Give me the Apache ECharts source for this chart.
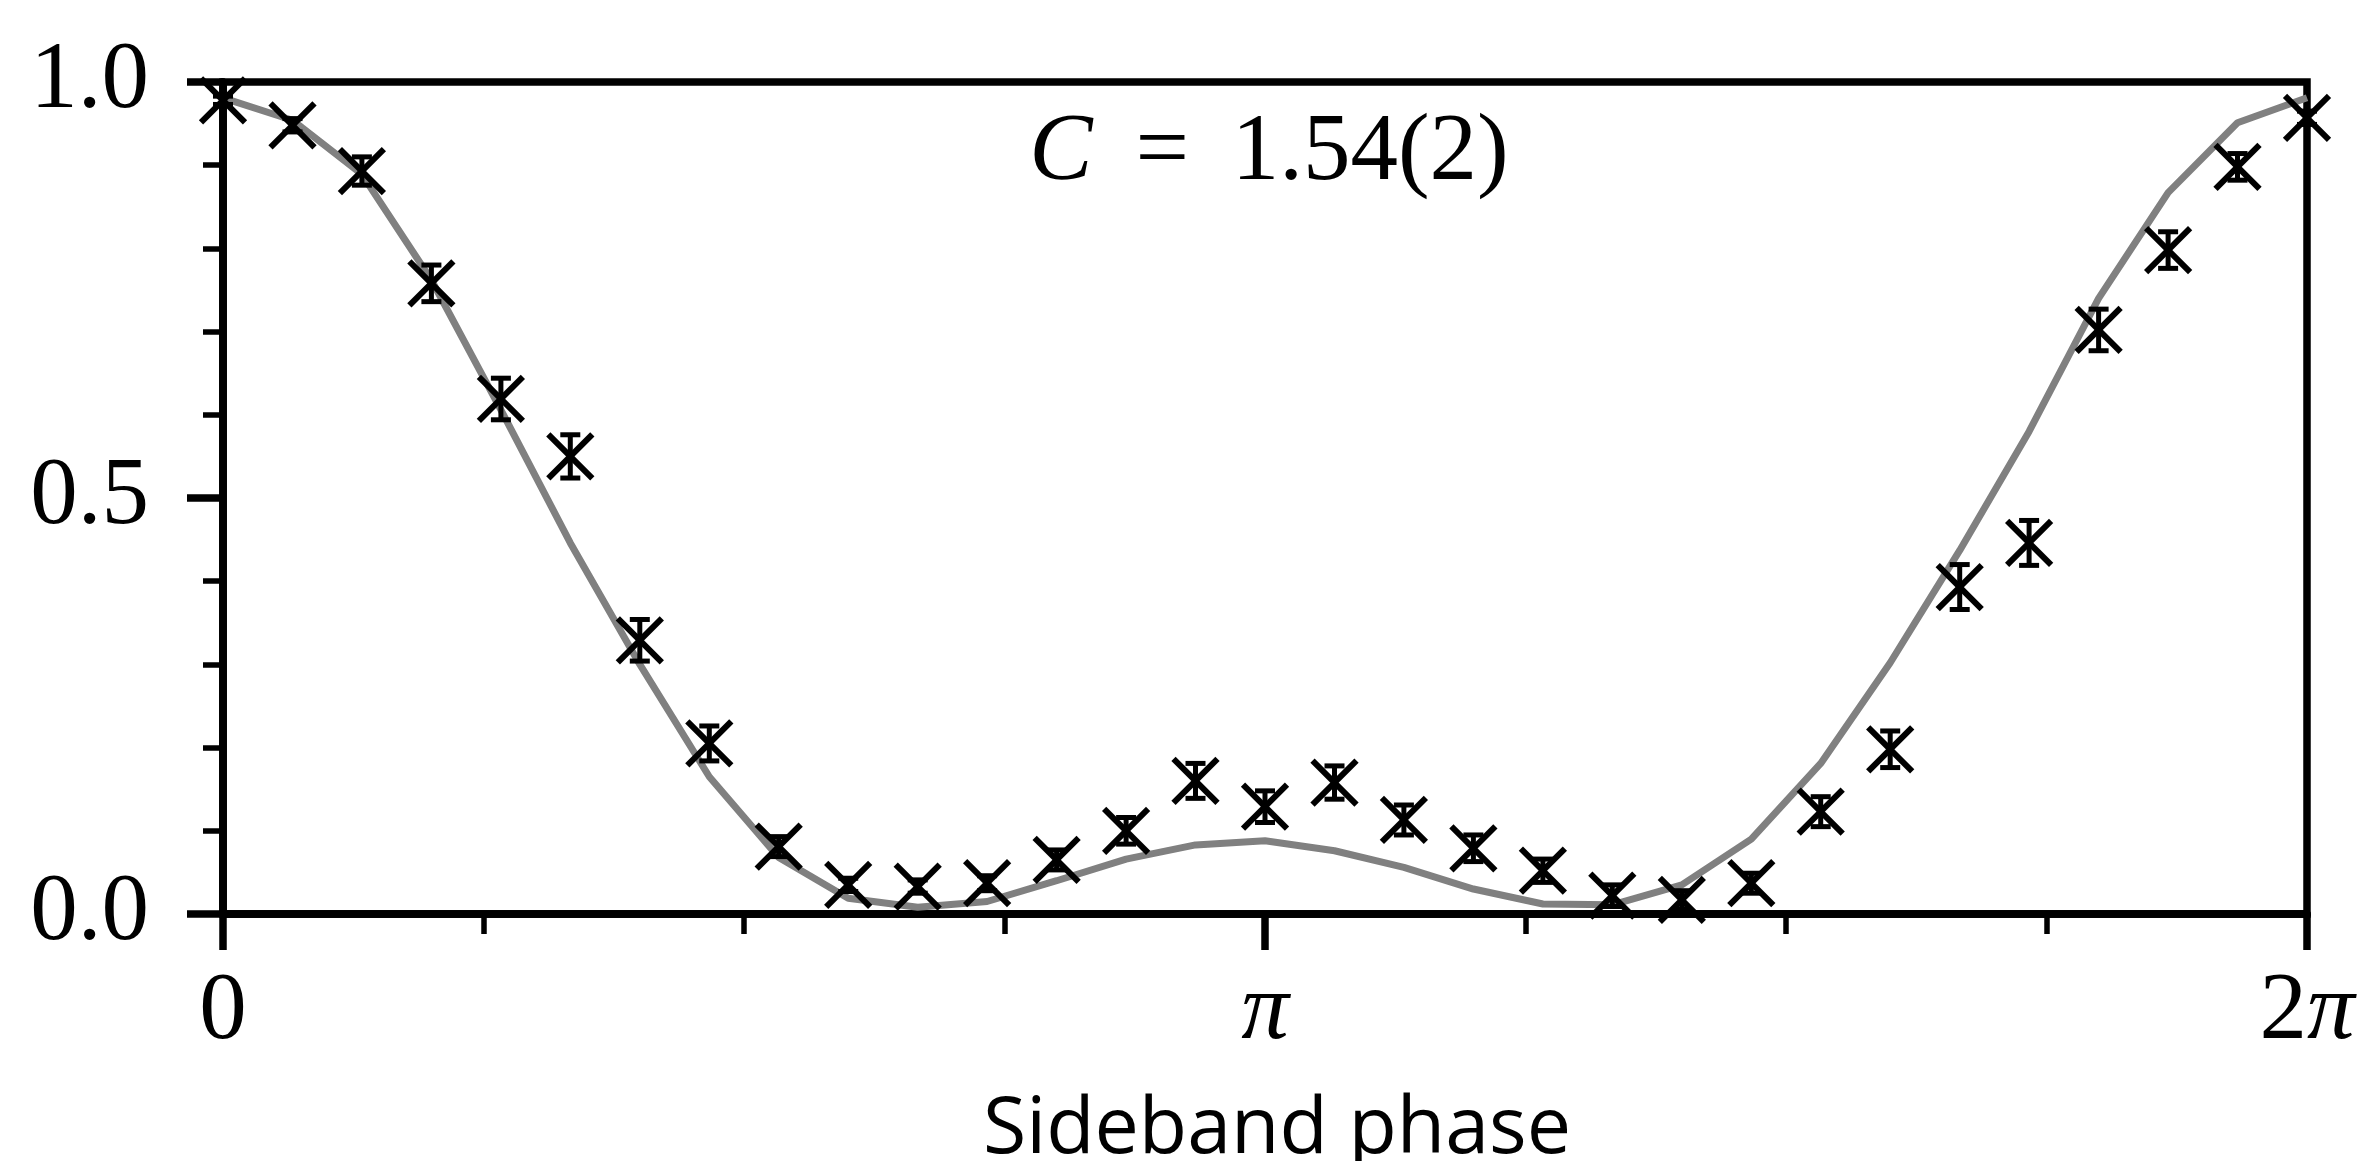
<!DOCTYPE html>
<html>
<head>
<meta charset="utf-8">
<script src="https://cdn.jsdelivr.net/npm/echarts@6/dist/echarts.min.js"></script>
<style>
html,body{margin:0;padding:0;background:#fff;}
#c{width:2371px;height:1161px;}
</style>
</head>
<body>
<div id="c"></div>
<script>
// Sideband phase in units of pi (31 points from 0 to 2)
const phase = [0, 0.0667, 0.1333, 0.2, 0.2667, 0.3333, 0.4, 0.4667, 0.5333, 0.6, 0.6667, 0.7333, 0.8, 0.8667, 0.9333, 1, 1.0667, 1.1333, 1.2, 1.2667, 1.3333, 1.4, 1.4667, 1.5333, 1.6, 1.6667, 1.7333, 1.8, 1.8667, 1.9333, 2];
// Measured values
const measured = [0.978, 0.948, 0.893, 0.758, 0.619, 0.550, 0.329, 0.205, 0.081, 0.035, 0.033, 0.037, 0.065, 0.100, 0.160, 0.129, 0.158, 0.113, 0.079, 0.052, 0.022, 0.017, 0.037, 0.123, 0.198, 0.393, 0.446, 0.702, 0.798, 0.898, 0.957];
// Error bar half-heights
const errors = [0.005, 0.008, 0.017, 0.022, 0.025, 0.026, 0.025, 0.021, 0.012, 0.008, 0.008, 0.009, 0.012, 0.016, 0.021, 0.019, 0.020, 0.018, 0.016, 0.014, 0.013, 0.011, 0.012, 0.018, 0.022, 0.027, 0.027, 0.025, 0.022, 0.016, 0.008];
// Theory curve
const theory = [0.981, 0.954, 0.889, 0.762, 0.606, 0.446, 0.300, 0.165, 0.068, 0.019, 0.008, 0.015, 0.040, 0.066, 0.083, 0.088, 0.076, 0.056, 0.030, 0.012, 0.011, 0.035, 0.090, 0.181, 0.302, 0.437, 0.580, 0.740, 0.867, 0.951, 0.981];
// Tick labels
const xTickLabels = {0: '0', 1: '{i|π}', 2: '2{i|π}'};
const yTickLabels = {0: '0.0', 0.5: '0.5', 1: '1.0'};
const annotation = '{i|C}\u2009 = \u20091.54(2)';
const xTitle = 'Sideband phase';

const chart = echarts.init(document.getElementById('c'));
const serif = 'Liberation Serif';
const axisCommon = {
  axisLine: {show: true, lineStyle: {color: '#000', width: 7.5}},
  splitLine: {show: false}
};
const option = {
  animation: false,
  backgroundColor: '#fff',
  grid: {left: 223, right: 64, top: 82, bottom: 247, show: true, borderColor: '#000', borderWidth: 7.5, containLabel: false},
  xAxis: [
    Object.assign({type: 'value', min: 0, max: 2, interval: 0.25, position: 'bottom',
      axisTick: {show: true, inside: false, length: 20, lineStyle: {color: '#000', width: 5.5}},
      axisLabel: {show: false}}, axisCommon),
    Object.assign({type: 'value', min: 0, max: 2, interval: 1, position: 'bottom',
      axisTick: {show: true, inside: false, length: 36, lineStyle: {color: '#000', width: 7.5}},
      axisLabel: {show: true, margin: 52, color: '#000', fontFamily: serif, fontSize: 95,
        formatter: v => xTickLabels[v] !== undefined ? xTickLabels[v] : '',
        rich: {i: {fontFamily: serif, fontStyle: 'italic', fontSize: 95, color: '#000'}}}}, axisCommon)
  ],
  yAxis: [
    Object.assign({type: 'value', min: 0, max: 1, interval: 0.1, position: 'left',
      axisTick: {show: true, inside: false, length: 20, lineStyle: {color: '#000', width: 5.5}},
      axisLabel: {show: false}}, axisCommon),
    Object.assign({type: 'value', min: 0, max: 1, interval: 0.5, position: 'left',
      axisTick: {show: true, inside: false, length: 36, lineStyle: {color: '#000', width: 7.5}},
      axisLabel: {show: true, margin: 74, color: '#000', fontFamily: serif, fontSize: 95,
        formatter: v => yTickLabels[v] !== undefined ? yTickLabels[v] : ''}}, axisCommon)
  ],
  series: [
    {
      type: 'line', xAxisIndex: 0, yAxisIndex: 0, z: 2,
      data: phase.map((x, i) => [x, theory[i]]),
      symbol: 'none', smooth: false,
      lineStyle: {color: '#808080', width: 7}
    },
    {
      type: 'custom', xAxisIndex: 0, yAxisIndex: 0, z: 3, clip: false,
      data: phase.map((x, i) => [x, measured[i], errors[i]]),
      renderItem: function (params, api) {
        const x = api.value(0), y = api.value(1), e = api.value(2);
        const c = api.coord([x, y]);
        const t = api.coord([x, y + e]);
        const b = api.coord([x, y - e]);
        const h = 22, cw = 10;
        const st = {stroke: '#000', lineWidth: 6, fill: null};
        const st2 = {stroke: '#000', lineWidth: 5, fill: null};
        return {
          type: 'group',
          children: [
            {type: 'line', shape: {x1: c[0] - h, y1: c[1] - h, x2: c[0] + h, y2: c[1] + h}, style: st},
            {type: 'line', shape: {x1: c[0] - h, y1: c[1] + h, x2: c[0] + h, y2: c[1] - h}, style: st},
            {type: 'line', shape: {x1: c[0], y1: t[1], x2: c[0], y2: b[1]}, style: st2},
            {type: 'line', shape: {x1: c[0] - cw, y1: t[1], x2: c[0] + cw, y2: t[1]}, style: st2},
            {type: 'line', shape: {x1: c[0] - cw, y1: b[1], x2: c[0] + cw, y2: b[1]}, style: st2}
          ]
        };
      }
    }
  ],
  graphic: [
    {
      type: 'text', z: 10,
      x: 1269, y: 154,
      style: {
        text: annotation,
        fill: '#000', fontFamily: serif, fontSize: 95,
        align: 'center', verticalAlign: 'middle',
        rich: {i: {fontFamily: serif, fontStyle: 'italic', fontSize: 95, fill: '#000'}}
      }
    },
    {
      type: 'text', z: 10,
      x: 1277, y: 1130,
      style: {
        text: xTitle,
        fill: '#000', fontFamily: 'Open Sans', fontSize: 79,
        align: 'center', verticalAlign: 'middle'
      }
    }
  ]
};
chart.setOption(option);
</script>
</body>
</html>
